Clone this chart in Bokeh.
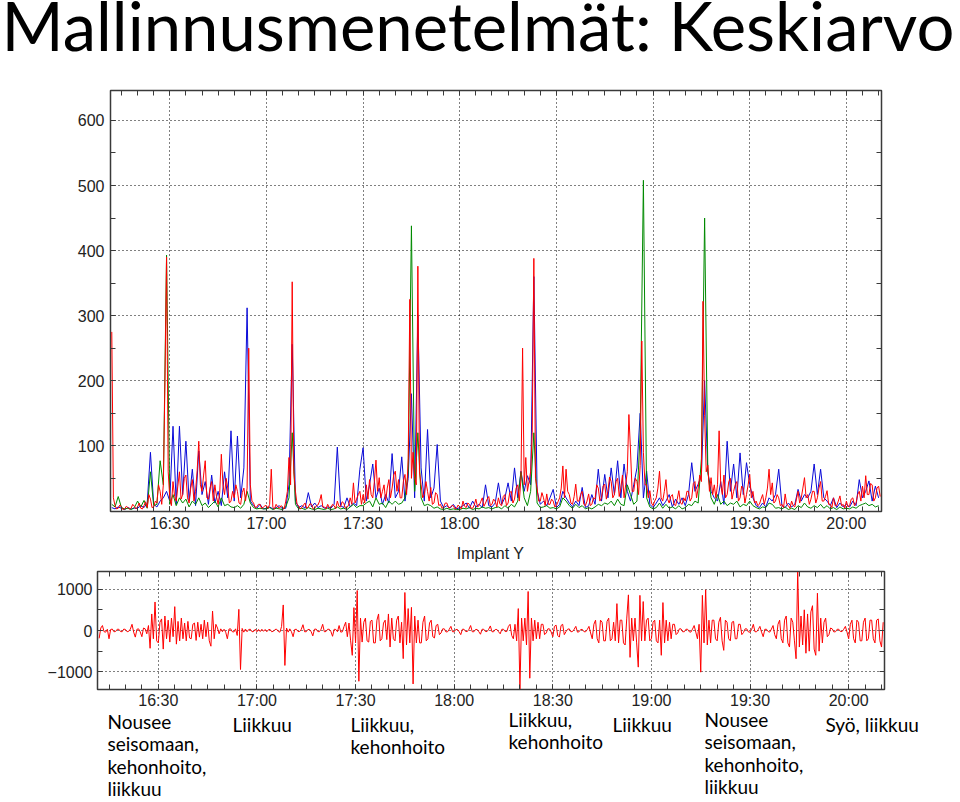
from bokeh.plotting import figure
from bokeh.models import Range1d, FixedTicker, LinearAxis
from bokeh.layouts import column
from bokeh.embed import file_html
from bokeh.resources import INLINE
from bokeh.core.properties import value

TITLE = "Mallinnusmenetelmät: Keskiarvo"
SUBTITLE = "Implant Y"
tick_minutes = [30, 60, 90, 120, 150, 180, 210, 240]
tick_labels = ["16:30", "17:00", "17:30", "18:00", "18:30", "19:00", "19:30", "20:00"]
top_y_ticks = [100, 200, 300, 400, 500, 600]
bot_y_ticks = [-1000, 0, 1000]

# sample grids (minutes after 16:00): blue/green once a minute, red and implant every half minute
minutes = list(range(12, 251))
half_minutes = [m / 2 for m in range(24, 502)]

red = [
    275, 20, 8, 3, 4, 9, 6, 2, 3, 7, 5, 3, 4, 10, 7, 3,
    6, 12, 4, 3, 8, 14, 5, 25, 18, 5, 6, 15, 12, 40, 30, 10, 40, 197, 390, 60,
    20, 8, 45, 22, 15, 38, 60, 18, 25, 50, 55, 20, 12, 35, 48, 15, 30, 62, 107, 40,
    30, 55, 77, 20, 18, 35, 45, 15, 40, 22, 10, 28, 87, 40, 25, 50, 35, 12, 15, 30,
    20, 40, 30, 12, 10, 28, 35, 15, 35, 250, 40, 15, 12, 5, 6, 10, 10, 4, 5, 8,
    8, 4, 10, 64, 5, 3, 10, 6, 4, 8, 6, 3, 15, 30, 82, 40, 352, 60, 30, 10,
    8, 3, 5, 9, 12, 4, 6, 11, 10, 3, 4, 8, 9, 15, 25, 6, 6, 3, 10, 5,
    5, 10, 8, 3, 15, 7, 6, 14, 12, 4, 5, 9, 20, 10, 43, 12, 18, 25, 30, 10,
    25, 12, 40, 18, 48, 25, 20, 45, 78, 30, 51, 20, 30, 40, 15, 35, 48, 20, 35, 55,
    61, 30, 48, 20, 20, 45, 56, 25, 80, 325, 50, 90, 51, 40, 376, 60, 40, 20, 25, 45,
    30, 15, 36, 10, 12, 28, 25, 8, 10, 4, 6, 12, 12, 5, 5, 8, 8, 3, 4, 9,
    6, 3, 15, 7, 5, 12, 10, 4, 4, 9, 18, 6, 8, 14, 20, 7, 12, 18, 22, 8,
    10, 18, 15, 6, 20, 10, 8, 22, 25, 8, 12, 28, 30, 12, 18, 35, 40, 15, 50, 250,
    40, 82, 30, 45, 60, 120, 388, 50, 35, 15, 15, 28, 20, 8, 26, 10, 10, 18, 15, 6,
    8, 14, 20, 35, 69, 20, 64, 30, 25, 12, 10, 22, 41, 15, 15, 25, 30, 10, 8, 15,
    26, 8, 10, 20, 18, 40, 35, 15, 20, 38, 41, 18, 30, 52, 45, 20, 25, 45, 50, 22,
    35, 55, 20, 40, 60, 148, 92, 30, 30, 50, 45, 25, 70, 261, 90, 40, 40, 20, 31, 12,
    8, 15, 20, 35, 61, 20, 15, 30, 48, 18, 12, 22, 25, 10, 8, 18, 31, 12, 10, 20,
    15, 30, 30, 15, 20, 42, 45, 20, 35, 55, 45, 322, 146, 60, 70, 30, 51, 25, 40, 20,
    40, 123, 40, 25, 55, 20, 25, 45, 50, 18, 30, 40, 45, 15, 20, 38, 35, 12, 25, 40,
    56, 20, 30, 12, 15, 8, 10, 18, 25, 10, 20, 35, 64, 25, 43, 12, 15, 25, 20, 8,
    10, 5, 26, 10, 8, 4, 15, 8, 6, 18, 30, 12, 20, 35, 51, 20, 25, 10, 18, 30,
    30, 12, 20, 35, 45, 15, 15, 22, 31, 10, 10, 5, 20, 8, 8, 15, 23, 8, 10, 4,
    15, 6, 8, 18, 20, 8, 12, 25, 30, 15, 38, 20, 54, 25, 25, 42, 40, 15, 20, 35, 38, 22,
]

green = [
    10, 6, 22, 5, 3, 4, 2, 5,
    15, 6, 16, 4, 60, 8, 10, 77, 40, 393,
    10, 25, 8, 20, 12, 18, 6, 15, 10, 20,
    8, 12, 5, 10, 15, 6, 20, 8, 10, 6,
    5, 8, 4, 10, 30, 12, 5, 3, 4, 3,
    3, 5, 2, 4, 3, 2, 6, 20, 120, 10,
    3, 4, 2, 5, 3, 2, 4, 3, 2, 4,
    2, 3, 6, 3, 4, 2, 6, 10, 5, 8,
    8, 12, 15, 6, 20, 10, 12, 5, 15, 10,
    15, 10, 12, 20, 60, 438, 30, 120, 20, 8,
    10, 8, 4, 6, 3, 2, 4, 2, 3, 2,
    2, 4, 3, 5, 2, 4, 3, 6, 4, 5,
    3, 5, 6, 3, 8, 4, 10, 6, 15, 60,
    20, 8, 30, 120, 12, 5, 6, 8, 4, 5,
    3, 6, 20, 15, 8, 4, 10, 5, 8, 3,
    5, 3, 6, 10, 8, 12, 10, 15, 8, 18,
    10, 8, 40, 25, 10, 15, 120, 508, 20, 6,
    3, 5, 12, 4, 10, 4, 6, 3, 8, 3,
    5, 10, 8, 15, 12, 80, 450, 60, 20, 10,
    25, 10, 15, 8, 12, 10, 15, 6, 10, 8,
    15, 8, 5, 3, 6, 5, 12, 10, 4, 5,
    3, 6, 2, 4, 2, 8, 5, 12, 6, 4,
    8, 5, 10, 4, 8, 3, 5, 2, 6, 3,
    4, 3, 6, 4, 8, 10, 12, 8, 10, 6, 8,
]

blue = [
    5, 3, 6, 4, 2, 5, 3, 4,
    4, 8, 5, 12, 90, 10, 6, 15, 20, 30,
    15, 130, 10, 130, 25, 107, 15, 64, 8, 92,
    25, 45, 10, 55, 12, 30, 8, 60, 20, 123,
    15, 115, 20, 66, 312, 15, 8, 4, 10, 3,
    4, 6, 3, 5, 8, 3, 4, 40, 256, 15,
    5, 8, 4, 28, 6, 12, 5, 8, 4, 6,
    4, 10, 98, 8, 5, 20, 6, 12, 8, 64,
    97, 15, 40, 72, 20, 35, 10, 25, 12, 88,
    20, 30, 83, 15, 50, 180, 20, 300, 66, 15,
    125, 20, 35, 102, 15, 5, 8, 4, 10, 3,
    5, 8, 12, 4, 15, 6, 10, 5, 40, 8,
    6, 12, 43, 10, 20, 43, 15, 66, 20, 61,
    30, 54, 40, 360, 31, 10, 15, 8, 20, 33,
    5, 10, 30, 20, 12, 6, 15, 8, 36, 5,
    8, 25, 10, 64, 15, 56, 20, 66, 25, 77,
    20, 72, 30, 15, 40, 66, 150, 20, 61, 10,
    5, 12, 20, 8, 15, 25, 6, 18, 10, 20,
    8, 25, 74, 30, 41, 54, 200, 60, 30, 20,
    15, 45, 10, 107, 30, 72, 20, 89, 25, 74,
    40, 20, 8, 5, 12, 6, 20, 15, 25, 64,
    8, 5, 12, 6, 10, 33, 15, 25, 20, 30,
    72, 25, 64, 20, 15, 8, 20, 5, 12, 6,
    10, 6, 15, 8, 48, 20, 30, 46, 15, 38, 20,
]

implant_y = [
    -190, 60, 120, -30, -40, 30, -200, 25, 35, -30, -25, 30, 30, -25, -30, 35,
    25, -30, -20, 35, 150, -40, -160, 30, 40, -35, -150, 60, 40, -80, 120, -430, 400, -200, 690, -250,
    -300, 200, 280, -450, 350, -200, 250, -280, 300, -150, 577, -330, 220, -250, 300, -200, 180, -250, 220, -180,
    -200, 150, 180, -240, 200, -160, 150, -200, 250, -150, 200, -250, -380, 470, -200, 150, 60, -80, 40, -30,
    30, -40, -200, 35, 40, -30, -35, 40, -120, 512, -943, 50, -40, 35, -30, 25, 30, -30, -25, 30,
    -30, 25, -25, 30, -20, 25, -30, 20, 25, -30, -20, 25, 30, -25, -40, 100, 618, -845, 60, -40,
    40, -30, -150, 25, 30, -25, -25, 30, 140, -30, -30, 25, 25, -30, -130, 30, 35, -25, -30, 30,
    150, -30, -25, 30, 30, -25, -140, 30, 25, -30, 120, -40, -30, 100, 200, -150, 180, -250, -600, 553,
    -300, 967, -1228, 300, -280, 200, 300, -250, -280, 220, 250, -300, -300, 250, 400, -250, -200, 180, 250, -220,
    400, -400, 300, -200, -250, 250, 350, -300, 200, -680, 919, -350, 530, -300, 560, -1293, 350, -300, 250, -300,
    -300, 200, 350, -250, -200, 180, 250, -150, -180, 120, 150, -100, -60, 40, 40, -35, -30, 30, 100, -30,
    -30, 25, 25, -30, -100, 30, 30, -25, -25, 30, 120, -30, -30, 25, 25, -30, -90, 30, 30, -25,
    -25, 30, 110, -30, -30, 25, 25, -30, -80, 30, 30, -25, -25, 100, 150, -120, -200, 150, -250, 530,
    -1415, 300, -250, 300, -350, 943, -1154, 300, -250, 250, -200, 200, -200, 150, 150, -100, -60, 40, 40, -35,
    -150, 100, 130, -120, -160, 120, 150, -100, -30, 30, 40, -30, -25, 30, 100, -40, -30, 25, 25, -30,
    -30, 25, 100, -60, -200, 150, 250, -200, -300, 250, 200, -250, -250, 220, 300, -250, -200, 200, -250, 650,
    -300, 250, 250, -300, -350, 300, 862, -650, 300, -250, 300, -300, -886, 850, -250, 700, -250, 250, 300, -250,
    -200, 200, 250, -250, -300, 250, -600, 675, -300, 250, -250, 200, -200, 150, 150, -100, -60, 40, 40, -30,
    -30, 30, 30, -30, -40, 35, 120, -40, -200, 150, -1008, 850, -300, 984, -350, 250, -300, 250, 250, -200,
    -250, 200, 320, -250, -480, 250, 200, -200, -250, 200, 220, -200, -200, 150, 150, -100, -50, 40, 40, -35,
    -40, 30, 150, -30, -30, 25, 100, -40, -150, 30, 30, -25, -40, 35, 120, -100, -200, 150, 250, -200,
    -300, 250, 350, -300, -400, 300, 200, -250, -683, 1447, -400, 350, -350, 500, -550, 400, -500, 450, 600, -450,
    -600, 902, -500, 300, -300, 200, 300, -150, -100, 60, 40, -35, -30, 30, 30, -25, -25, 30, 100, -40,
    -200, 150, 250, -200, -300, 250, 200, -250, -250, 200, 300, -250, -200, 250, 250, -200, -300, 250, 280, -250, -400, 200,
]

notes = [
    "Nousee\nseisomaan,\nkehonhoito,\nliikkuu",
    "Liikkuu",
    "Liikkuu,\nkehonhoito",
    "Liikkuu,\nkehonhoito",
    "Liikkuu",
    "Nousee\nseisomaan,\nkehonhoito,\nliikkuu",
    "Syö, liikkuu",
]

for arr in (green, blue):
    assert len(arr) == len(minutes), len(arr)
for arr in (red, implant_y):
    assert len(arr) == len(half_minutes), len(arr)

# ---------------- layout constants (page pixels) ----------------
W = 960
AXIS_FONT = "Liberation Sans"
TEXT_FONT = "Lato"
LBL_COLOR = "#222222"
FRAME = "#3a3a3a"
MID_SHIFT = 0.387          # Lato: baseline minus this many ems = vertical middle
note_px = [107, 232, 350, 508, 612, 704, 825]
note_base = [728, 731, 731, 726, 731, 726, 731]
NOTE_GAP = 22.5
NOTE_SIZE = 19
TITLE_SIZE = 67


def canvas(h, top):
    p = figure(width=W, height=h, x_range=Range1d(0, W), y_range=Range1d(top + h, top),
               output_backend="svg", toolbar_location=None, min_border=0,
               x_axis_location=None, y_axis_location=None, frame_align=False)
    p.grid.visible = False
    p.outline_line_color = None
    return p


def chart(h, xr, yr, borders, xt, yt, xt_edge, yt_edge):
    l, r, t, b = borders
    p = figure(width=W, height=h, x_range=Range1d(*xr), y_range=Range1d(*yr),
               output_backend="svg", toolbar_location=None, frame_align=False,
               min_border_left=l, min_border_right=r, min_border_top=t, min_border_bottom=b)
    p.xaxis.ticker = xt
    p.yaxis.ticker = yt
    p.add_layout(LinearAxis(ticker=xt_edge), "above")
    p.add_layout(LinearAxis(ticker=yt_edge), "right")
    for ax in p.axis:
        ax.major_tick_in = 5
        ax.major_tick_out = 0
        ax.minor_tick_in = 5
        ax.minor_tick_out = 0
        ax.axis_line_color = FRAME
        ax.major_tick_line_color = FRAME
        ax.minor_tick_line_color = FRAME
        ax.major_label_text_font = AXIS_FONT
        ax.major_label_text_font_size = "16px"
        ax.major_label_text_color = LBL_COLOR
    for ax in (p.above[0], p.right[0]):
        ax.major_label_standoff = 0
    p.below[0].major_label_overrides = dict(zip(tick_minutes, tick_labels))
    p.below[0].major_label_standoff = 3
    p.left[0].major_label_standoff = 6
    p.xgrid.ticker = xt
    p.ygrid.ticker = yt
    for g in (p.xgrid, p.ygrid):
        g.grid_line_color = "black"
        g.grid_line_dash = "1 3"
        g.grid_line_width = 1
    p.outline_line_color = FRAME
    p.outline_line_width = 1.5
    return p


x_minor = list(range(15, 251, 5))
x_ticker = FixedTicker(ticks=tick_minutes, minor_ticks=x_minor)
x_edge = FixedTicker(ticks=[], minor_ticks=x_minor)

# title (page rows 0..80)
p_title = canvas(80, 0)
p_title.text(x=[1], y=[50 - MID_SHIFT * TITLE_SIZE], text=[TITLE], text_font=value(TEXT_FONT),
             text_font_size=f"{TITLE_SIZE}px", text_baseline="middle", text_align="left",
             text_color="black")

# top chart (page rows 80..540, frame 90..511, x 110..881)
top_minor = list(range(50, 651, 50))
p_top = chart(460, (11.6, 250.9), (-1, 646), (110, 79, 10, 29), x_ticker,
              FixedTicker(ticks=top_y_ticks, minor_ticks=top_minor),
              x_edge, FixedTicker(ticks=[], minor_ticks=top_minor))
p_top.line(minutes, blue, line_color="#0a0ad8", line_width=1)
p_top.line(minutes, green, line_color="#008a00", line_width=1)
p_top.line(half_minutes, red, line_color="#ff0000", line_width=1)

# subtitle (page rows 540..566)
p_mid = canvas(26, 540)
p_mid.text(x=[490], y=[553], text=[SUBTITLE], text_font=value(AXIS_FONT), text_font_size="16px",
           text_baseline="middle", text_align="center", text_color=LBL_COLOR)

# bottom chart (page rows 566..711, frame 571..690, x 97..884)
bot_minor = [-1500, -1000, -500, 0, 500, 1000, 1500]
p_bot = chart(145, (11.5, 250.9), (-1427, 1427), (97, 76, 5, 21), x_ticker,
              FixedTicker(ticks=bot_y_ticks, minor_ticks=bot_minor),
              x_edge, FixedTicker(ticks=[], minor_ticks=bot_minor))
p_bot.left[0].major_label_standoff = 5
p_bot.below[0].major_label_standoff = 2
p_bot.line(half_minutes, implant_y, line_color="#ff0000", line_width=1)

# notes below the charts (page rows 711..800)
p_notes = canvas(89, 711)
nx, ny, nt = [], [], []
for txt, px, base in zip(notes, note_px, note_base):
    for i, line in enumerate(txt.split("\n")):
        nx.append(px)
        ny.append(base + i * NOTE_GAP - MID_SHIFT * NOTE_SIZE)
        nt.append(line)
p_notes.text(x=nx, y=ny, text=nt, text_font=value(TEXT_FONT), text_font_size=f"{NOTE_SIZE}px",
             text_baseline="middle", text_align="left", text_color="black")

layout = column(p_title, p_top, p_mid, p_bot, p_notes, spacing=0)
open("out.html", "w").write(file_html(layout, INLINE))
